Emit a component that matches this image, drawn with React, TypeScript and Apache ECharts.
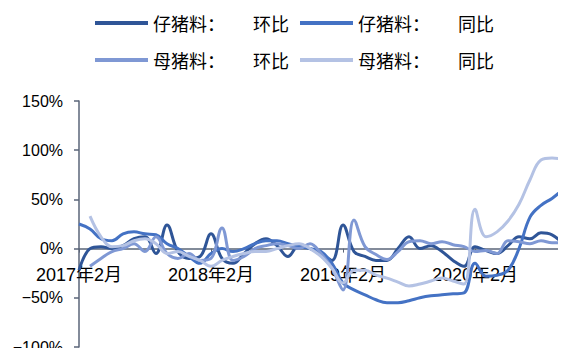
import React, { useEffect, useRef } from "react";
import * as echarts from "echarts";

const months: string[] = [];
for (let y = 2017, m = 2; months.length < 45; ) {
  months.push(`${y}年${m}月`);
  m++;
  if (m > 12) { m = 1; y++; }
}

const yTicks = [-100, -50, 0, 50, 100, 150];

const pigletMoM = [
  -22, 0, 2, 0, 3, 10, 12, -5, 24, -3, -10, -8,
  15, -10, -15, -5, 5, 10, 3, -8, 3, 0, -5, -12,
  24, -3, -8, -12, -12, 0, 12, 0, 3, -3, -12, -18,
  2, -2, -5, 3, 12, 10, 16, 14, 5,
];
const pigletYoY = [
  25, 20, 10, 8, 15, 17, 15, 14, 5, 0, -8, -15,
  -5, 0, -3, 0, 5, 8, 8, 5, 2, 0, -3, -15,
  -35, -42, -47, -52, -55, -55, -53, -50, -48, -47, -46, -45,
  -15, -28, -27, -22, 0, 32, 44, 51, 60,
];
const sowMoM = [
  null, -18, -10, -3, 0, 5, -3, 12, -5, -10, -5, -12,
  -10, 21, -12, -8, 0, 3, 5, 3, 0, 5, -5, -20,
  -42, 29, 2, -6, -11, -3, 7, 8, 5, 7, 4, 2,
  -3, -2, -5, 8, 7, 5, 8, 6, 6,
];
const sowYoY = [
  null, 33, 12, 2, 3, 8, 10, 5, -5, -3, -8, -12,
  -18, -12, -8, -5, -3, -3, 0, 3, 5, 0, -8, -20,
  -35, -22, -22, -27, -30, -34, -38, -36, -33, -30, -33, -36,
  40, 12, 17, 28, 45, 70, 90, 92, 91,
];

const names = ["仔猪料：环比", "仔猪料：同比", "母猪料：环比", "母猪料：同比"];
const colors = ["#2f5597", "#4472c4", "#7f98d4", "#b4c2e4"];

export default function App() {
  const ref = useRef<HTMLDivElement>(null);
  useEffect(() => {
    const chart = echarts.init(ref.current!, null, { renderer: "svg" });
    const font = "Noto Sans CJK SC";
    const legendBase = {
      orient: "horizontal" as const,
      left: 95,
      padding: 0,
      icon: "rect",
      itemWidth: 53,
      itemHeight: 4,
      itemGap: 11,
      formatter: (n: string) => {
        const [a, b] = n.split("：");
        return `{a|${a}：}{b|${b}}`;
      },
      textStyle: {
        fontSize: 18,
        color: "#000",
        fontFamily: font,
        rich: {
          a: { width: 100, fontSize: 18, color: "#000", fontFamily: font },
          b: { fontSize: 18, color: "#000", fontFamily: font },
        },
      },
    };
    const data = [pigletMoM, pigletYoY, sowMoM, sowYoY];
    chart.setOption({
      animation: false,
      legend: [
        { ...legendBase, top: 14, data: [names[0], names[1]] },
        { ...legendBase, top: 51, data: [names[2], names[3]] },
      ],
      grid: { left: 79, right: 3, top: 101, bottom: 9, containLabel: false, outerBoundsMode: "none" },
      xAxis: {
        type: "category",
        data: months,
        boundaryGap: false,
        axisLine: { onZero: true, lineStyle: { color: "#5a6578", width: 1.5 } },
        axisTick: { show: true, interval: 11, length: 4, lineStyle: { color: "#5a6578" } },
        axisLabel: {
          interval: 11,
          fontSize: 18,
          color: "#000",
          margin: -81,
          fontFamily: "Liberation Sans, Noto Sans CJK SC",
        },
        splitLine: { show: false },
      },
      yAxis: {
        type: "value",
        min: yTicks[0],
        max: yTicks[yTicks.length - 1],
        interval: 50,
        axisLine: { show: true, lineStyle: { color: "#5a6578", width: 1.5 } },
        axisTick: { show: true, length: 5, lineStyle: { color: "#5a6578", width: 1.5 } },
        axisLabel: {
          fontSize: 16,
          color: "#000",
          margin: 16,
          fontFamily: "Liberation Sans",
          formatter: (v: number) => (v < 0 ? "\u2212" + Math.abs(v) : String(v)) + "%",
        },
        splitLine: { show: false },
      },
      series: data.map((d, i) => ({
        name: names[i],
        type: "line",
        data: d,
        smooth: 0.4,
        showSymbol: false,
        lineStyle: { color: colors[i], width: 3 },
        itemStyle: { color: colors[i] },
      })),
    });
    return () => chart.dispose();
  }, []);
  return <div ref={ref} style={{ width: 566, height: 356, margin: -8 }} />;
}
